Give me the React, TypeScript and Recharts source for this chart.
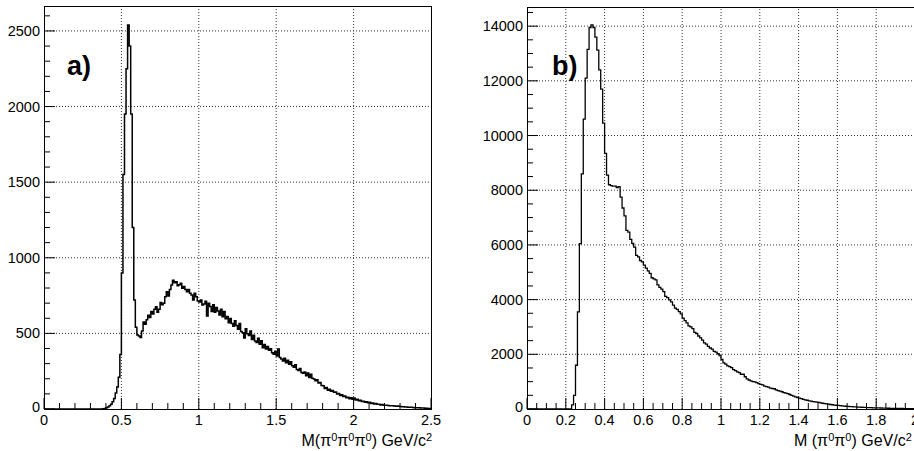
import { LineChart, Line, XAxis, YAxis, ReferenceLine } from 'recharts';

const BIN = 0.01;

// a) M(pi0 pi0 pi0), counts per 0.01 GeV/c^2 bin, first bin starts at 0
const countsA = [
  0, 0, 0, 0, 0, 0, 0, 0, 0, 0,
  0, 0, 0, 0, 0, 0, 0, 0, 0, 0,
  0, 0, 0, 0, 0, 0, 0, 0, 0, 0,
  0, 0, 0, 0, 0, 0, 0, 0, 2, 4,
  8, 14, 22, 32, 48, 70, 105, 145, 210, 360,
  900, 1550, 1950, 2250, 2540, 2400, 1950, 1200, 720, 540,
  490, 482, 472, 515, 575, 560, 590, 620, 605, 645,
  628, 660, 676, 640, 660, 705, 690, 700, 742, 775,
  748, 790, 820, 852, 835, 842, 815, 822, 832, 798,
  810, 790, 776, 790, 765, 754, 721, 765, 743, 715,
  708, 720, 688, 695, 712, 615, 700, 677, 644, 690,
  640, 672, 648, 622, 660, 610, 645, 596, 612, 570,
  598, 566, 548, 584, 552, 528, 566, 512, 505, 470,
  530, 498, 486, 515, 460, 488, 450, 440, 468, 428,
  452, 405, 426, 396, 414, 388, 398, 372, 362, 382,
  350, 396, 340, 330, 318, 336, 306, 322, 296, 312,
  286, 276, 292, 262, 254, 268, 242, 236, 244, 220,
  238, 208, 230, 204, 198, 186, 194, 172, 176, 156,
  154, 136, 142, 124, 130, 118, 122, 110, 112, 100,
  102, 90, 94, 82, 86, 74, 78, 68, 74, 64,
  72, 60, 64, 55, 58, 50, 52, 45, 48, 42,
  44, 36, 40, 33, 36, 31, 32, 27, 29, 25,
  25, 24, 23, 22, 22, 21, 20, 19, 20, 18,
  16, 15, 15, 14, 13, 12, 11, 11, 10, 9,
  9, 8, 8, 7, 7, 6, 5, 5, 4, 4,
];

// b) M(pi0 pi0), counts per 0.01 GeV/c^2 bin
const countsB = [
  0, 0, 0, 0, 0, 0, 0, 0, 0, 0,
  0, 0, 0, 0, 0, 0, 0, 0, 0, 0,
  0, 0, 0, 150, 500, 1600, 3550, 6050, 8600, 10600,
  12100, 13150, 13950, 14050, 13950, 13600, 13120, 12400, 11700, 10450,
  9350, 8550, 8200, 8170, 8150, 8150, 8100, 8130, 7750, 7350,
  7060, 6530, 6470, 6200, 6060, 5920, 5620, 5560, 5430, 5380,
  5260, 5150, 5050, 4960, 4800, 4760, 4720, 4540, 4450, 4380,
  4290, 4120, 4070, 3990, 3920, 3800, 3690, 3640, 3560, 3480,
  3320, 3230, 3150, 3040, 3000, 2940, 2800, 2760, 2670, 2600,
  2520, 2420, 2370, 2290, 2230, 2190, 2110, 2080, 2020, 1950,
  1810, 1690, 1640, 1580, 1550, 1510, 1440, 1400, 1360, 1330,
  1270, 1270, 1180, 1100, 1060, 1030, 1000, 990, 965, 930,
  900, 880, 840, 815, 800, 760, 750, 740, 700, 670,
  650, 630, 600, 580, 560, 530, 500, 470, 440, 420,
  400, 380, 355, 335, 320, 300, 285, 270, 260, 250,
  240, 225, 210, 195, 185, 175, 165, 155, 145, 138,
  130, 122, 115, 108, 100, 95, 90, 85, 80, 76,
  72, 68, 64, 60, 56, 53, 50, 47, 44, 42,
  40, 38, 36, 34, 32, 30, 28, 26, 25, 23,
  22, 20, 19, 18, 17, 16, 15, 14, 13, 12,
];

const xLabelsA = [0, 0.5, 1, 1.5, 2, 2.5];
const yLabelsA = [0, 500, 1000, 1500, 2000, 2500];
const xLabelsB = [0, 0.2, 0.4, 0.6, 0.8, 1, 1.2, 1.4, 1.6, 1.8, 2];
const yLabelsB = [0, 2000, 4000, 6000, 8000, 10000, 12000, 14000];

const FONT = '"Liberation Sans", Arial, Helvetica, sans-serif';

const toRows = (counts: number[]) => {
  const rows = counts.map((n, i) => ({ m: Math.round(i * BIN * 1000) / 1000, n }));
  rows.push({ m: Math.round(counts.length * BIN * 1000) / 1000, n: counts[counts.length - 1] });
  return rows;
};

const steps = (max: number, step: number) => {
  const out: number[] = [];
  for (let i = 0; i * step <= max + 1e-9; i++) out.push(Math.round(i * step * 1000) / 1000);
  return out;
};

const has = (arr: number[], v: number) => arr.some((a) => Math.abs(a - v) < 1e-6);

type PanelProps = {
  rows: { m: number; n: number }[];
  xMax: number;
  yMax: number;
  xMajor: number[];
  xMinorStep: number;
  yMajor: number[];
  yMinorStep: number;
  width: number;
  plotLeft: number;
  plotTop: number;
  plotRight: number;
  plotBottom: number;
  stroke: number;
};

function Panel(p: PanelProps) {
  const height = 451;
  const xTicks = steps(p.xMax, p.xMinorStep);
  const yTicks = steps(p.yMax, p.yMinorStep);

  const XTick = (t: any) => {
    const v = t.payload.value;
    const major = has(p.xMajor, v);
    return (
      <g>
        <line x1={t.x} x2={t.x} y1={p.plotBottom} y2={p.plotBottom - (major ? 11 : 6)} stroke="#000" />
        {major && (
          <text x={t.x} y={p.plotBottom + 16} textAnchor="middle" fontSize={14.5} fontFamily={FONT} fill="#000">
            {String(v)}
          </text>
        )}
      </g>
    );
  };

  const YTick = (t: any) => {
    const v = t.payload.value;
    const major = has(p.yMajor, v);
    return (
      <g>
        <line x1={p.plotLeft} x2={p.plotLeft + (major ? 11 : 6)} y1={t.y} y2={t.y} stroke="#000" />
        {major && (
          <text x={p.plotLeft - 4} y={t.y + (v === 0 ? 3 : 5)} textAnchor="end" fontSize={14.5} fontFamily={FONT} fill="#000">
            {String(v)}
          </text>
        )}
      </g>
    );
  };

  return (
    <LineChart
      width={p.width}
      height={height}
      data={p.rows}
      margin={{ top: p.plotTop, right: p.width - p.plotRight, bottom: 0, left: 0 }}
    >
      <XAxis
        dataKey="m"
        type="number"
        domain={[0, p.xMax]}
        ticks={xTicks}
        interval={0}
        tick={XTick}
        tickLine={false}
        axisLine={false}
        height={height - p.plotBottom}
      />
      <YAxis
        type="number"
        domain={[0, p.yMax]}
        ticks={yTicks}
        interval={0}
        tick={YTick}
        tickLine={false}
        axisLine={false}
        width={p.plotLeft}
      />
      {p.xMajor.filter((v) => v > 0 && v < p.xMax).map((v) => (
        <ReferenceLine key={'gx' + v} x={v} stroke="#333" strokeDasharray="1 2" />
      ))}
      {p.yMajor.filter((v) => v > 0).map((v) => (
        <ReferenceLine key={'gy' + v} y={v} stroke="#333" strokeDasharray="1 2" />
      ))}
      <Line
        type="stepAfter"
        dataKey="n"
        stroke="#000"
        strokeWidth={p.stroke}
        dot={false}
        isAnimationActive={false}
      />
    </LineChart>
  );
}

const sup = { fontSize: 11, position: 'relative' as const, top: -5 };

export default function App() {
  return (
    <div style={{ position: 'relative', width: 914, height: 451, overflow: 'hidden', background: '#fff', fontFamily: FONT, color: '#000' }}>
      <style>{'body{margin:0}'}</style>

      <div style={{ position: 'absolute', left: 0, top: 0 }}>
        <Panel
          rows={toRows(countsA)}
          xMax={2.5}
          yMax={2665}
          xMajor={xLabelsA}
          xMinorStep={0.1}
          yMajor={yLabelsA}
          yMinorStep={100}
          width={460}
          plotLeft={44}
          plotTop={6}
          plotRight={431}
          plotBottom={409}
          stroke={1.5}
        />
      </div>
      <div style={{ position: 'absolute', left: 44, top: 6, width: 388, height: 404, border: '1px solid #000', boxSizing: 'border-box', pointerEvents: 'none' }} />
      <div style={{ position: 'absolute', left: 67, top: 53, fontSize: 27, fontWeight: 'bold', lineHeight: '27px' }}>a)</div>
      <div style={{ position: 'absolute', right: 914 - 432, top: 433, fontSize: 16, lineHeight: '16px', whiteSpace: 'nowrap' }}>
        M(π<span style={sup}>0</span>π<span style={sup}>0</span>π<span style={sup}>0</span>) GeV/c<span style={sup}>2</span>
      </div>

      <div style={{ position: 'absolute', left: 460, top: 0 }}>
        <Panel
          rows={toRows(countsB)}
          xMax={2}
          yMax={14700}
          xMajor={xLabelsB}
          xMinorStep={0.05}
          yMajor={yLabelsB}
          yMinorStep={500}
          width={460}
          plotLeft={67}
          plotTop={7}
          plotRight={455}
          plotBottom={409}
          stroke={1.3}
        />
      </div>
      <div style={{ position: 'absolute', left: 527, top: 7, width: 389, height: 403, border: '1px solid #000', boxSizing: 'border-box', pointerEvents: 'none' }} />
      <div style={{ position: 'absolute', left: 552, top: 53, fontSize: 27, fontWeight: 'bold', lineHeight: '27px' }}>b)</div>
      <div style={{ position: 'absolute', left: 794, top: 433, fontSize: 16, lineHeight: '16px', whiteSpace: 'nowrap' }}>
        M (π<span style={sup}>0</span>π<span style={sup}>0</span>) GeV/c<span style={sup}>2</span>
      </div>
    </div>
  );
}
